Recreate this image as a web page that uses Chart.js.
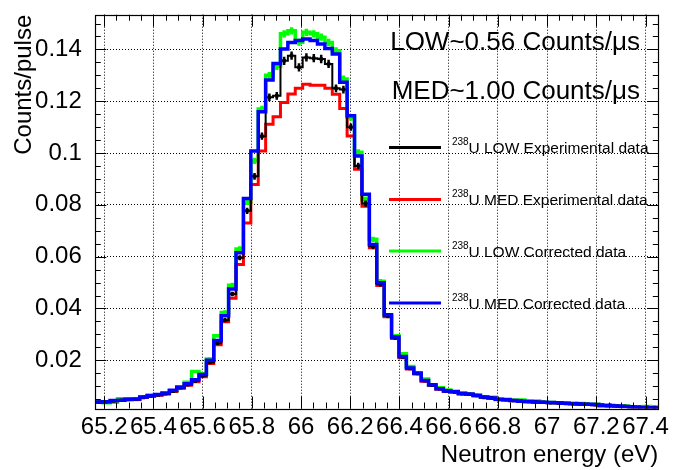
<!DOCTYPE html>
<html>
<head>
<meta charset="utf-8">
<title>238U neutron energy spectrum</title>
<script src="https://cdn.jsdelivr.net/npm/chart.js@4/dist/chart.umd.min.js"></script>
<style>
  html, body { margin: 0; padding: 0; background: #fff; }
  #wrap { width: 674px; height: 470px; }
</style>
</head>
<body>
<div id="wrap"><canvas id="c" width="674" height="470"></canvas></div>
<script>
// Histogram binning in neutron energy (eV)
const binLow = 65.164;
const binWidth = 0.0301;

// 238U LOW, experimental (counts/pulse per bin) and its uncertainties
const lowExperimental = [
  0.0038, 0.0040, 0.0043, 0.0046, 0.0049, 0.0050, 0.0057, 0.0062, 0.0066, 0.0071,
  0.0081, 0.0094, 0.0106, 0.0120, 0.0140, 0.0192, 0.0266, 0.0355, 0.0456, 0.0596,
  0.0777, 0.0910, 0.1065, 0.1215, 0.1221, 0.1356, 0.1376, 0.1331, 0.1369, 0.1366,
  0.1363, 0.1344, 0.1250, 0.1245, 0.1100, 0.0950, 0.0805, 0.0640, 0.0494, 0.0372,
  0.0287, 0.0212, 0.0168, 0.0149, 0.0121, 0.0104, 0.0090, 0.0081, 0.0078, 0.0071,
  0.0069, 0.0064, 0.0057, 0.0055, 0.0049, 0.0048, 0.0045, 0.0043, 0.0041, 0.0040,
  0.0038, 0.0036, 0.0035, 0.0033, 0.0032, 0.0031, 0.0030, 0.0029, 0.0027, 0.0026,
  0.0024, 0.0023, 0.0021, 0.0020, 0.0019, 0.0018
];
const lowExperimentalErr = [
  0.0003, 0.0003, 0.0003, 0.0003, 0.0003, 0.0003, 0.0003, 0.0003, 0.0003, 0.0003,
  0.0004, 0.0004, 0.0004, 0.0005, 0.0005, 0.0006, 0.0007, 0.0008, 0.0009, 0.0010,
  0.0012, 0.0013, 0.0014, 0.0015, 0.0015, 0.0016, 0.0016, 0.0016, 0.0016, 0.0016,
  0.0016, 0.0016, 0.0015, 0.0015, 0.0014, 0.0013, 0.0012, 0.0011, 0.0009, 0.0008,
  0.0007, 0.0006, 0.0005, 0.0005, 0.0004, 0.0004, 0.0004, 0.0003, 0.0003, 0.0003,
  0.0003, 0.0003, 0.0003, 0.0003, 0.0003, 0.0003, 0.0003, 0.0003, 0.0003, 0.0003,
  0.0003, 0.0003, 0.0003, 0.0003, 0.0003, 0.0003, 0.0003, 0.0003, 0.0003, 0.0003,
  0.0002, 0.0002, 0.0002, 0.0002, 0.0002, 0.0002
];

// 238U MED, experimental
const medExperimental = [
  0.0038, 0.0039, 0.0044, 0.0045, 0.0048, 0.0049, 0.0056, 0.0061, 0.0065, 0.0070,
  0.0080, 0.0092, 0.0104, 0.0117, 0.0137, 0.0188, 0.0260, 0.0349, 0.0440, 0.0570,
  0.0730, 0.0879, 0.1008, 0.1111, 0.1140, 0.1195, 0.1228, 0.1250, 0.1266, 0.1262,
  0.1262, 0.1250, 0.1227, 0.1172, 0.1066, 0.0937, 0.0795, 0.0634, 0.0489, 0.0368,
  0.0284, 0.0210, 0.0166, 0.0147, 0.0119, 0.0103, 0.0088, 0.0080, 0.0078, 0.0070,
  0.0068, 0.0063, 0.0057, 0.0054, 0.0049, 0.0047, 0.0044, 0.0041, 0.0040, 0.0038,
  0.0037, 0.0036, 0.0035, 0.0033, 0.0032, 0.0030, 0.0029, 0.0028, 0.0025, 0.0024,
  0.0023, 0.0021, 0.0019, 0.0018, 0.0017, 0.0016
];

// 238U LOW, dead-time corrected, and its uncertainties
const lowCorrected = [
  0.0040, 0.0036, 0.0038, 0.0052, 0.0051, 0.0049, 0.0058, 0.0066, 0.0067, 0.0072,
  0.0082, 0.0093, 0.0115, 0.0157, 0.0148, 0.0205, 0.0295, 0.0385, 0.0490, 0.0630,
  0.0810, 0.0970, 0.1170, 0.1300, 0.1335, 0.1460, 0.1472, 0.1428, 0.1466, 0.1460,
  0.1447, 0.1427, 0.1395, 0.1286, 0.1138, 0.1003, 0.0821, 0.0667, 0.0505, 0.0370,
  0.0295, 0.0225, 0.0176, 0.0150, 0.0128, 0.0104, 0.0094, 0.0085, 0.0077, 0.0075,
  0.0069, 0.0066, 0.0058, 0.0057, 0.0049, 0.0050, 0.0046, 0.0047, 0.0041, 0.0043,
  0.0038, 0.0037, 0.0036, 0.0035, 0.0031, 0.0033, 0.0030, 0.0030, 0.0026, 0.0027,
  0.0023, 0.0024, 0.0021, 0.0018, 0.0022, 0.0020
];
const lowCorrectedErr = [
  0.0003, 0.0003, 0.0003, 0.0003, 0.0003, 0.0003, 0.0003, 0.0003, 0.0003, 0.0003,
  0.0004, 0.0004, 0.0005, 0.0005, 0.0005, 0.0006, 0.0007, 0.0008, 0.0009, 0.0010,
  0.0011, 0.0012, 0.0013, 0.0013, 0.0014, 0.0014, 0.0014, 0.0014, 0.0014, 0.0014,
  0.0014, 0.0014, 0.0013, 0.0013, 0.0013, 0.0012, 0.0011, 0.0010, 0.0009, 0.0008,
  0.0007, 0.0006, 0.0005, 0.0005, 0.0004, 0.0004, 0.0004, 0.0003, 0.0003, 0.0003,
  0.0003, 0.0003, 0.0003, 0.0003, 0.0003, 0.0003, 0.0003, 0.0003, 0.0003, 0.0003,
  0.0003, 0.0003, 0.0003, 0.0003, 0.0003, 0.0003, 0.0003, 0.0003, 0.0003, 0.0003,
  0.0002, 0.0002, 0.0002, 0.0002, 0.0002, 0.0002
];

// 238U MED, dead-time corrected
const medCorrected = [
  0.0039, 0.0040, 0.0045, 0.0046, 0.0050, 0.0051, 0.0058, 0.0063, 0.0068, 0.0074,
  0.0084, 0.0097, 0.0110, 0.0125, 0.0145, 0.0200, 0.0276, 0.0372, 0.0475, 0.0615,
  0.0825, 0.1008, 0.1159, 0.1282, 0.1346, 0.1402, 0.1427, 0.1434, 0.1440, 0.1434,
  0.1421, 0.1404, 0.1382, 0.1273, 0.1144, 0.0989, 0.0841, 0.0647, 0.0499, 0.0376,
  0.0290, 0.0215, 0.0170, 0.0151, 0.0122, 0.0106, 0.0090, 0.0082, 0.0080, 0.0072,
  0.0070, 0.0064, 0.0058, 0.0055, 0.0050, 0.0048, 0.0045, 0.0042, 0.0041, 0.0039,
  0.0038, 0.0037, 0.0036, 0.0034, 0.0033, 0.0031, 0.0030, 0.0029, 0.0026, 0.0025,
  0.0024, 0.0022, 0.0020, 0.0018, 0.0017, 0.0016
];

// Axis ranges and labelled ticks
const xRange = [65.164, 67.452];
const yRange = [0.0014, 0.1534];
const xTickValues = [65.2, 65.4, 65.6, 65.8, 66.0, 66.2, 66.4, 66.6, 66.8, 67.0, 67.2, 67.4];
const yTickValues = [0.02, 0.04, 0.06, 0.08, 0.10, 0.12, 0.14];
const xMinorStep = 0.05;
const yMinorStep = 0.005;

// Text
const xTitle = 'Neutron energy (eV)';
const yTitle = 'Counts/pulse';
const isotope = '238';
const legendLabels = ['U LOW Experimental data', 'U MED Experimental data', 'U LOW Corrected data', 'U MED Corrected data'];
const legendColors = ['#000000', '#ff0000', '#00ff00', '#0000ff'];
const rateLabels = ['LOW~0.56 Counts/\u03bcs', 'MED~1.00 Counts/\u03bcs'];

const FONT = "'Liberation Sans', Arial, Helvetica, sans-serif";

// Step-histogram points: one point per lower bin edge plus the closing upper edge
function histPoints(values) {
  const pts = values.map((v, k) => ({ x: binLow + k * binWidth, y: v }));
  pts.push({ x: binLow + values.length * binWidth, y: values[values.length - 1] });
  return pts;
}
function centerPoints(values) {
  return values.map((v, k) => ({ x: binLow + (k + 0.5) * binWidth, y: v }));
}

// Vertical error bars at bin centres, drawn right after their own dataset
const errorBarPlugin = {
  id: 'errorBars',
  afterDatasetDraw(chart, args) {
    const ds = chart.data.datasets[args.index];
    if (!ds.errors) return;
    const { ctx, chartArea: a } = chart;
    const xs = chart.scales.x, ys = chart.scales.y;
    ctx.save();
    ctx.beginPath();
    ctx.rect(a.left, a.top, a.right - a.left, a.bottom - a.top);
    ctx.clip();
    ctx.strokeStyle = ds.borderColor;
    ctx.lineWidth = ds.errorWidth;
    ctx.beginPath();
    ds.values.forEach((v, k) => {
      const px = xs.getPixelForValue(binLow + (k + 0.5) * binWidth);
      ctx.moveTo(px, ys.getPixelForValue(v - ds.errors[k]));
      ctx.lineTo(px, ys.getPixelForValue(v + ds.errors[k]));
    });
    ctx.stroke();
    ctx.restore();
  }
};

// Frame with inward major/minor ticks on all four sides
const framePlugin = {
  id: 'frame',
  afterDatasetsDraw(chart) {
    const { ctx, chartArea: a } = chart;
    const xs = chart.scales.x, ys = chart.scales.y;
    const xMajorLen = 12, xMinorLen = 6, yMajorLen = 11, yMinorLen = 5.5;
    ctx.save();
    ctx.strokeStyle = '#000';
    ctx.lineWidth = 1;
    ctx.beginPath();
    for (let i = 0; ; i++) {
      const v = xTickValues[0] + i * xMinorStep;
      if (v > xRange[1]) break;
      const px = Math.round(xs.getPixelForValue(v)) + 0.5;
      const len = (i % 4 === 0) ? xMajorLen : xMinorLen;
      ctx.moveTo(px, a.bottom); ctx.lineTo(px, a.bottom - len);
      ctx.moveTo(px, a.top); ctx.lineTo(px, a.top + len);
    }
    for (let i = 1; ; i++) {
      const v = i * yMinorStep;
      if (v > yRange[1]) break;
      if (v < yRange[0]) continue;
      const py = Math.round(ys.getPixelForValue(v)) + 0.5;
      const len = (i % 4 === 0) ? yMajorLen : yMinorLen;
      ctx.moveTo(a.left, py); ctx.lineTo(a.left + len, py);
      ctx.moveTo(a.right, py); ctx.lineTo(a.right - len, py);
    }
    ctx.stroke();
    ctx.lineWidth = 1.2;
    ctx.strokeRect(Math.round(a.left) + 0.5, Math.round(a.top) + 0.5,
                   Math.round(a.right - a.left), Math.round(a.bottom - a.top));
    ctx.restore();
  }
};

// Legend and rate annotations inside the frame
const annotationPlugin = {
  id: 'annotations',
  afterDraw(chart) {
    const { ctx } = chart;
    ctx.save();
    ctx.fillStyle = '#000';
    ctx.textBaseline = 'alphabetic';
    ctx.textAlign = 'right';
    ctx.font = '26px ' + FONT;
    ctx.fillText(rateLabels[0], 640, 50);
    ctx.fillText(rateLabels[1], 640, 98.5);

    const rows = [147.5, 199.5, 251, 303];
    ctx.textAlign = 'left';
    legendLabels.forEach((label, i) => {
      const y = rows[i];
      ctx.strokeStyle = legendColors[i];
      ctx.lineWidth = 3;
      ctx.beginPath();
      ctx.moveTo(389, y); ctx.lineTo(441, y);
      ctx.stroke();
      ctx.fillStyle = '#000';
      ctx.font = '10px ' + FONT;
      ctx.fillText(isotope, 452, y - 2.5);
      ctx.font = '15.5px ' + FONT;
      ctx.fillText(label, 468.5, y + 5.5);
    });
    ctx.restore();
  }
};

const stepStyle = { stepped: 'before', pointRadius: 0, fill: false, tension: 0,
                    borderJoinStyle: 'miter', borderCapStyle: 'butt' };

new Chart(document.getElementById('c'), {
  type: 'line',
  data: {
    datasets: [
      Object.assign({ label: 'MED corrected', data: histPoints(medCorrected),
        borderColor: '#0000ff', borderWidth: 3.5 }, stepStyle),
      { label: 'LOW experimental points', data: centerPoints(lowExperimental), showLine: false,
        pointStyle: 'rect', pointRadius: 2.5, pointBackgroundColor: '#000', pointBorderWidth: 0 },
      Object.assign({ label: 'LOW experimental', data: histPoints(lowExperimental),
        borderColor: '#000000', borderWidth: 2,
        values: lowExperimental, errors: lowExperimentalErr, errorWidth: 2.5 }, stepStyle),
      Object.assign({ label: 'MED experimental', data: histPoints(medExperimental),
        borderColor: '#ff0000', borderWidth: 3 }, stepStyle),
      Object.assign({ label: 'LOW corrected', data: histPoints(lowCorrected),
        borderColor: '#00ff00', borderWidth: 3.5,
        values: lowCorrected, errors: lowCorrectedErr, errorWidth: 3.5 }, stepStyle)
    ]
  },
  options: {
    responsive: false,
    animation: false,
    devicePixelRatio: 1,
    layout: { padding: { top: 14.7, right: 15.7, left: 0, bottom: 0 } },
    plugins: { legend: { display: false }, tooltip: { enabled: false } },
    scales: {
      x: {
        type: 'linear', min: xRange[0], max: xRange[1],
        afterBuildTicks: s => { s.ticks = xTickValues.map(v => ({ value: v })); },
        afterFit: s => { s.height = 61.5; s.paddingLeft = 0; s.paddingRight = 0; },
        ticks: { color: '#000', font: { family: FONT, size: 24 }, padding: 4,
                 maxRotation: 0, autoSkip: false, callback: v => String(+v.toFixed(1)) },
        grid: { color: '#000', lineWidth: 1, drawTicks: false },
        border: { display: false, dash: [1, 2] },
        title: { display: true, text: xTitle, align: 'end', color: '#000',
                 font: { family: FONT, size: 24 }, padding: { top: 0, bottom: 0 } }
      },
      y: {
        type: 'linear', min: yRange[0], max: yRange[1],
        afterBuildTicks: s => { s.ticks = yTickValues.map(v => ({ value: v })); },
        afterFit: s => { s.width = 95.3; s.paddingTop = 0; s.paddingBottom = 0; },
        ticks: { color: '#000', font: { family: FONT, size: 24 }, padding: 13.5,
                 autoSkip: false, callback: v => String(+v.toFixed(2)) },
        grid: { color: '#000', lineWidth: 1, drawTicks: false },
        border: { display: false, dash: [1, 2] },
        title: { display: true, text: yTitle, align: 'end', color: '#000',
                 font: { family: FONT, size: 24 }, padding: { top: 10, bottom: 0 } }
      }
    }
  },
  plugins: [errorBarPlugin, framePlugin, annotationPlugin]
});
</script>
</body>
</html>
